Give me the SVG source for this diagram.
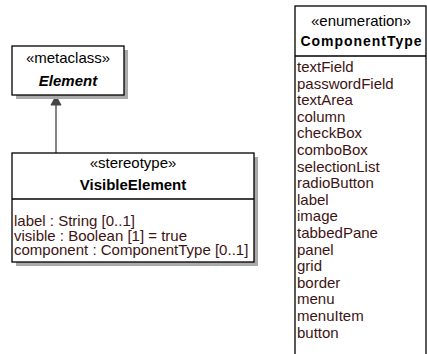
<svg xmlns="http://www.w3.org/2000/svg" width="427" height="354" viewBox="0 0 427 354">
<style>
.box{fill:#fff;stroke:#000;stroke-width:1.3}
.shadow{fill:#aaa}
.div{stroke:#000;stroke-width:1.3}
text{font-family:"Liberation Sans",Arial,sans-serif;font-size:15px}
.hdr{fill:#000;text-anchor:middle}
.name{font-weight:bold}
.it{font-style:italic}
.attr{fill:#3d1414}
.conn{stroke:#444;stroke-width:1.3;fill:none}
.head{fill:#444;stroke:#444}
</style>
<rect width="427" height="354" fill="#fff"/>
<g id="connectors">
<line class="conn" x1="56" y1="153" x2="56" y2="105"/>
<polygon class="head" points="56,96 51,105 61,105"/>
</g>
<g id="Element">
<rect class="shadow" x="16" y="50" width="112" height="49"/>
<rect class="box" x="12" y="46" width="112" height="49"/>
<text class="hdr" x="68" y="63">«metaclass»</text>
<text class="hdr name it" x="68" y="86">Element</text>
</g>
<g id="VisibleElement">
<rect class="shadow" x="16" y="157" width="242" height="109"/>
<rect class="box" x="12" y="153" width="242" height="109"/>
<text class="hdr" x="133" y="168">«stereotype»</text>
<text class="hdr name" x="133" y="190">VisibleElement</text>
<line class="div" x1="12" y1="199" x2="254" y2="199"/>
<text class="attr" x="14" y="226.3">label : String [0..1]</text>
<text class="attr" x="14" y="240.7">visible : Boolean [1] = true</text>
<text class="attr" x="14" y="255.1">component : ComponentType [0..1]</text>
</g>
<g id="ComponentType">
<rect class="box" x="295" y="6" width="131" height="360"/>
<text class="hdr" x="361" y="26">«enumeration»</text>
<text class="hdr name" x="361" y="46" style="font-size:14px" textLength="121" lengthAdjust="spacing">ComponentType</text>
<line class="div" x1="295" y1="56" x2="426" y2="56"/>
<text class="attr" x="297" y="72">textField</text>
<text class="attr" x="297" y="88.6">passwordField</text>
<text class="attr" x="297" y="105.2">textArea</text>
<text class="attr" x="297" y="121.8">column</text>
<text class="attr" x="297" y="138.4">checkBox</text>
<text class="attr" x="297" y="155">comboBox</text>
<text class="attr" x="297" y="171.6">selectionList</text>
<text class="attr" x="297" y="188.2">radioButton</text>
<text class="attr" x="297" y="204.8">label</text>
<text class="attr" x="297" y="221.4">image</text>
<text class="attr" x="297" y="238">tabbedPane</text>
<text class="attr" x="297" y="254.6">panel</text>
<text class="attr" x="297" y="271.2">grid</text>
<text class="attr" x="297" y="287.8">border</text>
<text class="attr" x="297" y="304.4">menu</text>
<text class="attr" x="297" y="321">menuItem</text>
<text class="attr" x="297" y="337.6">button</text>
</g>
</svg>
